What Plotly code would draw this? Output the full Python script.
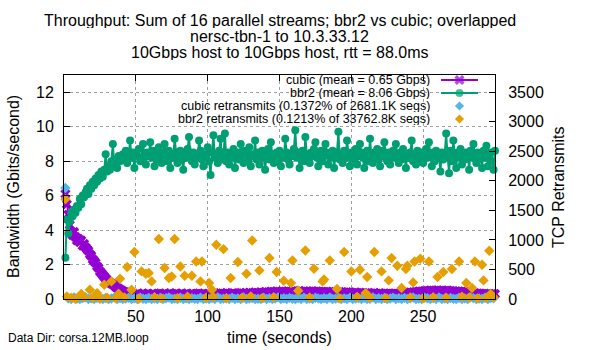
import plotly.graph_objects as go

# ---------------- data ----------------
time_s = list(range(1, 301))

cubic_gbps = [
    6.1, 5.5, 4.9, 4.3, 3.9, 3.7, 3.9, 3.6, 3.4, 3.5,
    3.3, 3.4, 3.1, 3.2, 3.0, 2.9, 2.8, 2.6, 2.5, 2.3,
    2.2, 2.1, 1.9, 1.8, 1.6, 1.5, 1.4, 1.3, 1.2, 1.1,
    1.0, 0.95, 0.9, 0.85, 0.8, 0.7, 0.65, 0.6, 0.55, 0.5,
    0.45, 0.42, 0.38, 0.35, 0.33, 0.3, 0.28, 0.27, 0.26, 0.25,
    0.26, 0.31, 0.24, 0.29, 0.33, 0.27, 0.22, 0.30, 0.28, 0.25,
    0.29, 0.32, 0.26, 0.23, 0.30, 0.27, 0.33, 0.25, 0.28, 0.31,
    0.27, 0.24, 0.30, 0.34, 0.26, 0.29, 0.23, 0.31, 0.28, 0.26,
    0.30, 0.33, 0.27, 0.25, 0.29, 0.32, 0.24, 0.28, 0.31, 0.27,
    0.25, 0.30, 0.28, 0.33, 0.26, 0.29, 0.31, 0.24, 0.27, 0.30,
    0.28, 0.32, 0.25, 0.30, 0.34, 0.27, 0.29, 0.31, 0.26, 0.33,
    0.30, 0.27, 0.35, 0.29, 0.32, 0.26, 0.31, 0.34, 0.28, 0.30,
    0.33, 0.29, 0.36, 0.31, 0.27, 0.34, 0.30, 0.32, 0.37, 0.29,
    0.35, 0.31, 0.38, 0.33, 0.36, 0.30, 0.39, 0.34, 0.37, 0.41,
    0.36, 0.40, 0.34, 0.43, 0.38, 0.41, 0.37, 0.44, 0.39, 0.42,
    0.38, 0.45, 0.40, 0.43, 0.37, 0.44, 0.41, 0.39, 0.46, 0.42,
    0.40, 0.44, 0.38, 0.47, 0.42, 0.39, 0.45, 0.41, 0.43, 0.38,
    0.44, 0.40, 0.46, 0.42, 0.39, 0.45, 0.41, 0.43, 0.37, 0.42,
    0.40, 0.36, 0.43, 0.39, 0.41, 0.37, 0.42, 0.35, 0.40, 0.38,
    0.36, 0.41, 0.34, 0.39, 0.37, 0.33, 0.40, 0.35, 0.38, 0.32,
    0.36, 0.31, 0.38, 0.34, 0.30, 0.37, 0.33, 0.35, 0.29, 0.34,
    0.31, 0.36, 0.28, 0.33, 0.30, 0.35, 0.27, 0.32, 0.29, 0.34,
    0.30, 0.27, 0.33, 0.29, 0.31, 0.26, 0.32, 0.28, 0.30, 0.33,
    0.29, 0.32, 0.27, 0.31, 0.34, 0.30, 0.33, 0.36, 0.32, 0.35,
    0.38, 0.34, 0.40, 0.37, 0.42, 0.39, 0.44, 0.41, 0.45, 0.43,
    0.47, 0.44, 0.48, 0.45, 0.50, 0.46, 0.49, 0.44, 0.47, 0.51,
    0.46, 0.49, 0.45, 0.48, 0.44, 0.47, 0.50, 0.45, 0.48, 0.43,
    0.46, 0.42, 0.45, 0.41, 0.44, 0.40, 0.43, 0.38, 0.41, 0.37,
    0.35, 0.39, 0.33, 0.36, 0.31, 0.34, 0.30, 0.33, 0.28, 0.32,
    0.29, 0.27, 0.31, 0.26, 0.30, 0.28, 0.25, 0.29, 0.27, 0.30,
]

bbr2_gbps = [
    2.4, 4.6, 3.8, 4.5, 5.0, 4.8, 5.2, 5.0, 5.4, 5.3,
    5.8, 5.5, 6.0, 5.9, 6.2, 6.4, 6.1, 6.6, 6.4, 6.8,
    6.6, 7.0, 6.8, 7.2, 7.0, 7.4, 7.1, 7.5, 8.4, 7.4,
    7.7, 7.5, 8.0, 9.0, 7.8, 8.1, 7.6, 8.3, 8.0, 8.2,
    8.4, 8.1, 8.6, 7.9, 8.3, 9.2, 8.2, 8.5, 7.6, 8.4,
    8.3, 8.7, 8.0, 8.2, 9.0, 8.4, 7.8, 8.5, 8.3, 9.1,
    8.2, 8.6, 7.7, 8.4, 8.1, 8.8, 8.3, 7.9, 8.5, 9.0,
    8.3, 8.0, 8.6, 7.6, 8.4, 8.2, 9.3, 8.5, 7.9, 8.3,
    8.6, 8.1, 7.5, 8.4, 8.2, 8.7, 9.4, 8.3, 8.0, 8.5,
    7.8, 8.4, 8.2, 9.2, 8.6, 8.1, 7.7, 8.4, 8.3, 8.8,
    8.0, 7.2, 8.5, 9.5, 8.2, 8.4, 7.9, 8.6, 9.3, 8.1,
    8.3, 9.6, 8.0, 8.5, 7.8, 8.4, 8.2, 8.7, 7.6, 8.3,
    8.5, 8.1, 9.0, 8.4, 7.9, 8.6, 8.2, 8.0, 8.8, 7.7,
    8.4, 8.3, 9.2, 8.1, 8.5, 7.8, 8.4, 8.6, 8.2, 7.5,
    8.3, 8.7, 8.1, 9.1, 8.4, 7.9, 8.2, 8.5, 8.0, 8.6,
    7.7, 8.4, 8.2, 9.3, 8.5, 8.1, 7.8, 8.4, 8.3, 8.7,
    9.8, 8.2, 8.5, 7.6, 8.3, 8.6, 8.0, 9.4, 8.4, 8.1,
    7.9, 8.5, 8.3, 8.7, 9.1, 8.2, 7.7, 8.4, 8.6, 8.0,
    8.3, 9.0, 8.5, 7.8, 8.4, 8.2, 8.6, 7.6, 8.3, 8.5,
    9.7, 8.1, 8.4, 7.9, 8.6, 8.2, 9.2, 8.3, 7.7, 8.5,
    8.4, 8.1, 8.7, 7.8, 8.3, 9.0, 8.5, 8.2, 7.6, 8.4,
    8.6, 8.0, 9.3, 8.3, 7.9, 8.5, 8.2, 8.7, 8.1, 7.7,
    8.4, 8.6, 9.1, 8.2, 8.0, 8.5, 7.8, 8.3, 8.6, 8.2,
    9.0, 8.4, 7.9, 8.5, 8.1, 8.7, 8.3, 7.6, 8.4, 8.2,
    8.5, 9.2, 8.0, 8.3, 7.8, 8.6, 8.4, 8.1, 8.5, 7.9,
    8.3, 8.7, 8.2, 9.1, 8.4, 7.7, 8.5, 8.0, 8.6, 8.3,
    8.2, 7.4, 8.5, 8.1, 8.4, 9.6, 8.3, 7.3, 8.6, 8.0,
    9.2, 8.4, 7.6, 8.5, 8.2, 8.7, 7.8, 8.3, 8.1, 8.5,
    8.4, 7.5, 8.6, 8.2, 9.0, 8.3, 7.9, 8.5, 8.1, 8.4,
    7.6, 8.6, 8.2, 8.9, 7.7, 8.3, 8.5, 8.0, 7.5, 8.6,
]

cubic_retx_time = list(range(1, 301, 2))
cubic_retx = [
    1880, 12, 0, 25, 8, 0, 15, 30, 0, 10,
    0, 22, 5, 0, 18, 0, 9, 27, 0, 14,
    0, 6, 20, 0, 11, 0, 24, 3, 0, 16,
    0, 8, 0, 19, 0, 12, 26, 0, 7, 0,
    21, 0, 10, 0, 15, 4, 0, 23, 0, 9,
    0, 17, 0, 28, 0, 6, 13, 0, 20, 0,
    11, 0, 25, 0, 8, 18, 0, 5, 0, 22,
    0, 14, 0, 9, 27, 0, 12, 0, 19, 3,
    0, 16, 0, 24, 0, 7, 0, 21, 10, 0,
    13, 0, 26, 0, 6, 18, 0, 11, 0, 23,
    0, 9, 15, 0, 20, 0, 4, 28, 0, 12,
    0, 17, 0, 8, 24, 0, 14, 0, 19, 0,
    10, 26, 0, 6, 0, 21, 13, 0, 16, 0,
    25, 0, 9, 0, 18, 5, 0, 22, 0, 11,
    0, 27, 14, 0, 8, 0, 20, 0, 15, 12,
]

bbr2_retx_time = [
    1, 2, 5, 8, 12, 14, 18, 20, 23, 24, 25, 28, 30, 33, 36, 38, 39, 42, 44, 47,
    49, 52, 54, 57, 59, 61, 63, 66, 68, 70, 73, 75, 77, 79, 81, 84, 86, 89, 92, 95,
    96, 99, 101, 103, 104, 106, 111, 113, 116, 121, 124, 127, 130, 131, 136, 138, 143, 146, 148, 153,
    158, 159, 163, 168, 171, 174, 180, 181, 185, 190, 192, 195, 200, 204, 206, 210, 211, 213, 216, 221,
    224, 226, 228, 232, 235, 238, 239, 241, 243, 244, 248, 250, 254, 257, 260, 264, 266, 270, 275, 277,
    280, 282, 284, 286, 288, 291, 292, 294, 296, 297, 299,
]
bbr2_retx = [
    1690, 44, 20, 0, 85, 30, 157, 15, 100, 44, 10, 242, 20, 298, 10, 90, 343, 25, 541, 157,
    795, 5, 467, 428, 440, 298, 30, 1015, 10, 524, 355, 382, 1015, 15, 551, 394, 40, 394, 636, 298,
    636, 20, 270, 157, 35, 918, 845, 10, 355, 626, 20, 428, 45, 991, 484, 15, 693, 30, 456, 310,
    270, 653, 140, 822, 25, 512, 298, 330, 653, 169, 10, 795, 467, 35, 495, 100, 372, 20, 795, 467,
    15, 315, 693, 563, 186, 507, 563, 25, 281, 636, 681, 10, 636, 30, 372, 456, 20, 507, 636, 40,
    270, 25, 186, 636, 10, 580, 315, 20, 817, 85, 30,
]

legend_labels = [
    "cubic (mean = 0.65 Gbps)",
    "bbr2 (mean = 8.06 Gbps)",
    "cubic retransmits (0.1372% of 2681.1K segs)",
    "bbr2 retransmits (0.1213% of 33762.8K segs)",
]
title_lines = [
    "Throughput: Sum of 16 parallel streams; bbr2 vs cubic; overlapped",
    "nersc-tbn-1 to 10.3.33.12",
    "10Gbps host to 10Gbps host, rtt = 88.0ms",
]

# ---------------- styling ----------------
FONT = "Liberation Sans, Arial, sans-serif"
C_CUBIC = "#9400D3"
C_BBR2 = "#009E73"
C_CRETX = "#56B4E9"
C_BRETX = "#E69F00"
Y_MAX = 13.0
Y2_MAX = 3500 * Y_MAX / 12.0

# plot area in pixels
L, R, T, B = 64, 495, 75, 299
W, H = R - L, B - T


def px(xp):
    return (xp - L) / W


def py(yp):
    return (B - yp) / H


fig = go.Figure()

fig.add_trace(go.Scatter(
    x=time_s, y=cubic_gbps, mode="lines+markers", cliponaxis=False,
    line=dict(color=C_CUBIC, width=2),
    marker=dict(symbol="x", size=9, color=C_CUBIC, line=dict(width=0)),
    showlegend=False))
fig.add_trace(go.Scatter(
    x=time_s, y=bbr2_gbps, mode="lines+markers", cliponaxis=False,
    line=dict(color=C_BBR2, width=2),
    marker=dict(symbol="circle", size=8, color=C_BBR2, line=dict(width=0)),
    showlegend=False))
fig.add_trace(go.Scatter(
    x=cubic_retx_time, y=cubic_retx, mode="markers", yaxis="y2", cliponaxis=False,
    marker=dict(symbol="diamond", size=8, color=C_CRETX, line=dict(width=0)),
    showlegend=False))
fig.add_trace(go.Scatter(
    x=bbr2_retx_time, y=bbr2_retx, mode="markers", yaxis="y2", cliponaxis=False,
    marker=dict(symbol="diamond", size=8, color=C_BRETX, line=dict(width=0)),
    showlegend=False))

# gnuplot-style key (text right aligned, sample to the right)
rows_px = [80, 93, 106, 119]
styles = [
    dict(color=C_CUBIC, symbol="x", line=True, size=9),
    dict(color=C_BBR2, symbol="circle", line=True, size=8),
    dict(color=C_CRETX, symbol="diamond", line=False, size=7),
    dict(color=C_BRETX, symbol="diamond", line=False, size=7),
]
for lab, ry, st in zip(legend_labels, rows_px, styles):
    yy = py(ry)
    if st["line"]:
        fig.add_trace(go.Scatter(
            x=[px(441), px(459.5), px(478)], y=[yy, yy, yy], xaxis="x3", yaxis="y3",
            mode="lines+markers", line=dict(color=st["color"], width=2),
            marker=dict(symbol=st["symbol"], size=[0, st["size"], 0], color=st["color"],
                        line=dict(width=0)),
            showlegend=False, hoverinfo="skip", cliponaxis=False))
    else:
        fig.add_trace(go.Scatter(
            x=[px(459.5)], y=[yy], xaxis="x3", yaxis="y3", mode="markers",
            marker=dict(symbol=st["symbol"], size=st["size"], color=st["color"],
                        line=dict(width=0)),
            showlegend=False, hoverinfo="skip", cliponaxis=False))

annotations = []
for lab, ry in zip(legend_labels, rows_px):
    annotations.append(dict(
        text=lab, xref="paper", yref="paper", x=px(432), y=py(ry),
        xanchor="right", yanchor="middle", showarrow=False, height=12,
        font=dict(family=FONT, size=12.5, color="black")))

for line, ty in zip(title_lines, [20, 36, 52]):
    annotations.append(dict(
        text=line, xref="paper", yref="paper", x=0.5, y=py(ty),
        xanchor="center", yanchor="middle", showarrow=False, height=16,
        font=dict(family=FONT, size=16, color="black")))

annotations.append(dict(
    text="Bandwidth (Gbits/second)", xref="paper", yref="paper", x=px(13), y=0.5,
    xanchor="center", yanchor="middle", textangle=-90, showarrow=False,
    font=dict(family=FONT, size=16, color="black")))
annotations.append(dict(
    text="TCP Retransmits", xref="paper", yref="paper", x=px(558), y=0.5,
    xanchor="center", yanchor="middle", textangle=-90, showarrow=False,
    font=dict(family=FONT, size=16, color="black")))
annotations.append(dict(
    text="time (seconds)", xref="paper", yref="paper", x=0.5, y=py(337),
    xanchor="center", yanchor="middle", showarrow=False,
    font=dict(family=FONT, size=16, color="black")))
annotations.append(dict(
    text="Data Dir: corsa.12MB.loop", xref="paper", yref="paper", x=px(6), y=py(338),
    xanchor="left", yanchor="middle", showarrow=False,
    font=dict(family=FONT, size=12, color="black")))

axis_common = dict(
    showline=True, linecolor="black", linewidth=1, ticks="inside", ticklen=6,
    tickcolor="black", tickwidth=1, zeroline=False,
    tickfont=dict(family=FONT, size=16, color="black"),
)

fig.update_layout(
    width=600, height=350,
    margin=dict(l=L, r=600 - R, t=T, b=350 - B, pad=0),
    paper_bgcolor="white", plot_bgcolor="white",
    font=dict(family=FONT, size=16, color="black"),
    showlegend=False,
    annotations=annotations,
    shapes=[dict(type="rect", xref="paper", yref="paper",
                 x0=px(163), x1=px(487), y0=py(126), y1=py(76),
                 fillcolor="white", line=dict(width=0), layer="between")],
    xaxis=dict(range=[0, 300], tickvals=[50, 100, 150, 200, 250], mirror="ticks",
               showgrid=True, gridcolor="#a0a0a0", griddash="3px,3px", gridwidth=1,
               ticklabelstandoff=3, **axis_common),
    yaxis=dict(range=[0, Y_MAX], tickvals=[0, 2, 4, 6, 8, 10, 12], mirror=True,
               showgrid=True, gridcolor="#a0a0a0", griddash="3px,3px", gridwidth=1,
               ticklabelstandoff=6, **axis_common),
    yaxis2=dict(range=[0, Y2_MAX], tickvals=[0, 500, 1000, 1500, 2000, 2500, 3000, 3500],
                overlaying="y", side="right", showgrid=False, ticklabelstandoff=9,
                **axis_common),
    xaxis3=dict(range=[0, 1], overlaying="x", visible=False, anchor="y3"),
    yaxis3=dict(range=[0, 1], overlaying="y", visible=False, anchor="x3"),
)

fig.write_html("out.html")
